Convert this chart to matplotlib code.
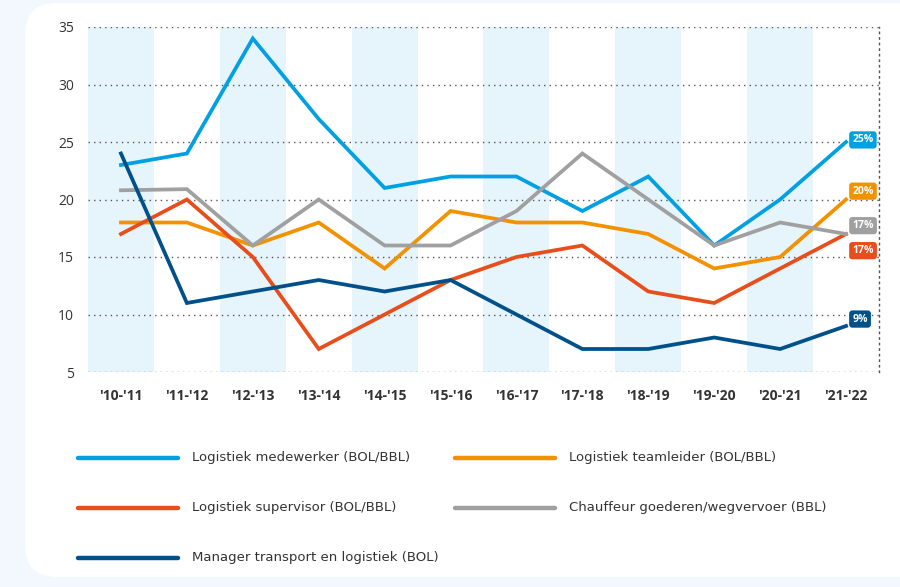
import matplotlib

matplotlib.use("Agg")
import matplotlib.pyplot as plt
from matplotlib.lines import Line2D
from matplotlib.patches import FancyBboxPatch

seasons = ["'10-'11", "'11-'12", "'12-'13", "'13-'14", "'14-'15", "'15-'16",
           "'16-'17", "'17-'18", "'18-'19", "'19-'20", "'20-'21", "'21-'22"]
medewerker = [23, 24, 34, 27, 21, 22, 22, 19, 22, 16, 20, 25]
teamleider = [18, 18, 16, 18, 14, 19, 18, 18, 17, 14, 15, 20]
supervisor = [17, 20, 15, 7, 10, 13, 15, 16, 12, 11, 14, 17]
chauffeur = [20.8, 20.9, 16, 20, 16, 16, 19, 24, 20, 16, 18, 17]
manager = [24, 11, 12, 13, 12, 13, 10, 7, 7, 8, 7, 9]
end_labels = ["25%", "20%", "17%", "17%", "9%"]
names = [
    "Logistiek medewerker (BOL/BBL)",
    "Logistiek teamleider (BOL/BBL)",
    "Logistiek supervisor (BOL/BBL)",
    "Chauffeur goederen/wegvervoer (BBL)",
    "Manager transport en logistiek (BOL)",
]

COLORS = ["#00a0e2", "#f39200", "#e84e1b", "#a0a0a0", "#00508a"]
LABEL_OFFSETS = [1.5, 6, -12, 6, 5]  # points, vertical shift of end labels
TEXT = "#333333"

fig = plt.figure(figsize=(9, 5.87), dpi=100, facecolor="#f2f8fd")
card = FancyBboxPatch((0.028, 0.017), 1.2, 0.978, boxstyle="round,pad=0,rounding_size=0.035",
                      transform=fig.transFigure, facecolor="white", edgecolor="none",
                      mutation_aspect=900 / 587, zorder=-5)
fig.add_artist(card)

ax = fig.add_axes([88 / 900, 1 - 372 / 587, 791 / 900, 345 / 587])
ax.set_facecolor("none")
x = list(range(len(seasons)))

for i in range(0, len(seasons), 2):
    ax.axvspan(i - 0.5, i + 0.5, color="#e6f4fc", lw=0, zorder=0)

series = [medewerker, teamleider, supervisor, chauffeur, manager]
draw_order = [4, 3, 1, 2, 0]
for k in draw_order:
    ax.plot(x, series[k], color=COLORS[k], lw=2.7, solid_joinstyle="miter", zorder=3 + k * 0.1)

for k, values in enumerate(series):
    ax.annotate(end_labels[k], xy=(x[-1], values[-1]), xytext=(4.5, LABEL_OFFSETS[k]),
                textcoords="offset points", ha="left", va="center", color="white",
                fontsize=7.5, fontweight="bold", family="Open Sans", zorder=6,
                bbox=dict(boxstyle="round,pad=0.3,rounding_size=0.3", fc=COLORS[k], ec="none"))

ax.set_xlim(-0.5, len(seasons) - 0.5)
ax.set_ylim(5, 35)
ax.set_yticks(range(5, 36, 5))
ax.set_xticks(x)
ax.set_xticklabels(seasons, fontsize=10, fontweight="bold", color=TEXT, family="Open Sans")
for t in ax.get_yticklabels():
    t.set_fontsize(10)
    t.set_color(TEXT)
    t.set_family("Open Sans")
ax.tick_params(length=0)
ax.tick_params(axis="y", pad=10)
ax.tick_params(axis="x", pad=12)
ax.grid(axis="y", color="#555555", linestyle=(0, (1, 3)), lw=1)
for side in ["top", "left", "bottom"]:
    ax.spines[side].set_visible(False)
ax.spines["right"].set_linestyle((0, (1, 3)))
ax.spines["right"].set_color("#555555")
ax.spines["right"].set_linewidth(1)
for line in ax.get_ygridlines():
    line.set_zorder(1)

# legend, two columns
legend_slots = [(78, 458), (455, 458), (78, 508), (455, 508), (78, 558)]
for k, (lx, ly) in enumerate(legend_slots):
    fy = 1 - ly / 587
    fig.add_artist(Line2D([lx / 900, (lx + 100) / 900], [fy, fy], color=COLORS[k], lw=3.2,
                          solid_capstyle="round", transform=fig.transFigure))
    fig.text((lx + 114) / 900, fy, names[k], ha="left", va="center", fontsize=9.5,
             color=TEXT, family="DejaVu Sans")

fig.savefig("out.png", dpi=100, facecolor=fig.get_facecolor())
